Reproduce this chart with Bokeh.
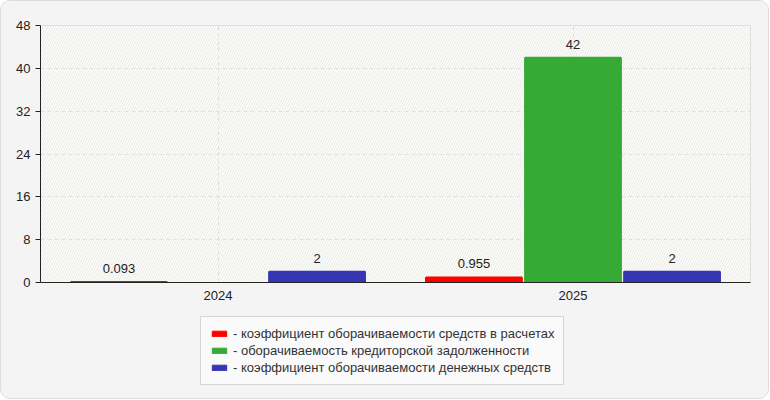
from bokeh.plotting import figure
from bokeh.layouts import column
from bokeh.models import (ColumnDataSource, Legend, LegendItem, BoxAnnotation, FixedTicker,
                          Range1d, CDSView, BooleanFilter)
from bokeh.transform import dodge
from bokeh.core.properties import value
from bokeh.embed import file_html
from bokeh.resources import INLINE

years = ["2024", "2025"]
series_names = [
    "- коэффициент оборачиваемости средств в расчетах",
    "- оборачиваемость кредиторской задолженности",
    "- коэффициент оборачиваемости денежных средств",
]
red_vals = [0.093, 0.955]
green_vals = [0, 42]
blue_vals = [2, 2]
red_labels = ["0.093", "0.955"]
green_labels = ["", "42"]
blue_labels = ["2", "2"]
y_ticks = [0, 8, 16, 24, 32, 40, 48]

colors = ["#ff0000", "#35aa35", "#3636b4"]
FONT = "Liberation Sans"
BG = "#f4f4f4"

src = ColumnDataSource(dict(
    x=years, red=red_vals, green=green_vals, blue=blue_vals,
    red_l=red_labels, green_l=green_labels, blue_l=blue_labels,
))

p = figure(x_range=years, y_range=(0, 48), frame_width=710, frame_height=257,
           output_backend="svg", toolbar_location=None,
           min_border_left=39, min_border_right=18, min_border_top=24,
           min_border_bottom=28)
p.border_fill_color = BG
p.background_fill_color = "#fdfdf9"
p.outline_line_color = "#dddddd"

p.add_layout(BoxAnnotation(fill_alpha=0, line_alpha=0, hatch_pattern="/",
                           hatch_color="#e8e8e8", hatch_scale=5, hatch_weight=1,
                           level="underlay"))

off = 0.279
w = 0.27
renderers = []
for key, vals, c, d in [("red", red_vals, colors[0], -off),
                        ("green", green_vals, colors[1], 0),
                        ("blue", blue_vals, colors[2], off)]:
    view = CDSView(filter=BooleanFilter([v > 0 for v in vals]))
    r = p.vbar(x=dodge("x", d, range=p.x_range), top=key, width=w, bottom=0,
               source=src, view=view, fill_color=c, line_color=c, line_width=2)
    renderers.append(r)
    p.text(x=dodge("x", d, range=p.x_range), y=key, text=key + "_l", source=src,
           text_align="center", text_baseline="bottom", y_offset=-9,
           text_font=value(FONT), text_font_size="13px", text_color="#222222")

p.xgrid.grid_line_color = "#dddddd"
p.xgrid.grid_line_dash = "4 3"
p.ygrid.grid_line_color = "#dddddd"
p.ygrid.grid_line_dash = "4 3"
p.yaxis.ticker = FixedTicker(ticks=y_ticks)

for ax in (p.xaxis[0], p.yaxis[0]):
    ax.axis_line_color = "#222222"
    ax.major_label_text_font = FONT
    ax.major_label_text_font_size = "13px"
    ax.major_label_text_color = "#222222"
    ax.minor_tick_line_color = None
p.yaxis.major_tick_out = 5
p.yaxis.major_tick_in = 0
p.yaxis.major_tick_line_color = "#222222"
p.yaxis.major_label_standoff = 5
p.xaxis.major_tick_out = 0
p.xaxis.major_tick_in = 0
p.xaxis.major_label_standoff = 8

# legend area (dummy glyphs have no drawable value; they only give the legend its swatches)
p2 = figure(width=767, height=88, x_range=Range1d(0, 1), y_range=Range1d(0, 1),
            x_axis_type=None, y_axis_type=None, output_backend="svg",
            toolbar_location=None, min_border=0)
p2.border_fill_color = BG
p2.background_fill_color = BG
p2.outline_line_color = None
p2.grid.visible = False
dummy_src = ColumnDataSource(dict(x=[0.5], top=[float("nan")]))
dummies = []
for c in colors:
    dummies.append(p2.vbar(x="x", top="top", width=0.1, source=dummy_src,
                           fill_color=c, line_color=c))

legend = Legend(items=[LegendItem(label=n, renderers=[r]) for n, r in zip(series_names, dummies)],
                location=(160, 13), orientation="vertical",
                label_text_font=FONT, label_text_font_size="13px", label_text_color="#333333",
                glyph_width=18, glyph_height=7, label_height=13, label_standoff=5,
                spacing=2, padding=9, margin=0,
                border_line_color="#b0b0b0", background_fill_color="#fafafa",
                background_fill_alpha=1)
p2.add_layout(legend, "center")

layout = column(p, p2, spacing=0)
layout.styles = {"border": "1px solid #dddddd", "border-radius": "10px",
                 "background-color": BG, "overflow": "hidden"}

open("out.html", "w").write(file_html(layout, INLINE))
